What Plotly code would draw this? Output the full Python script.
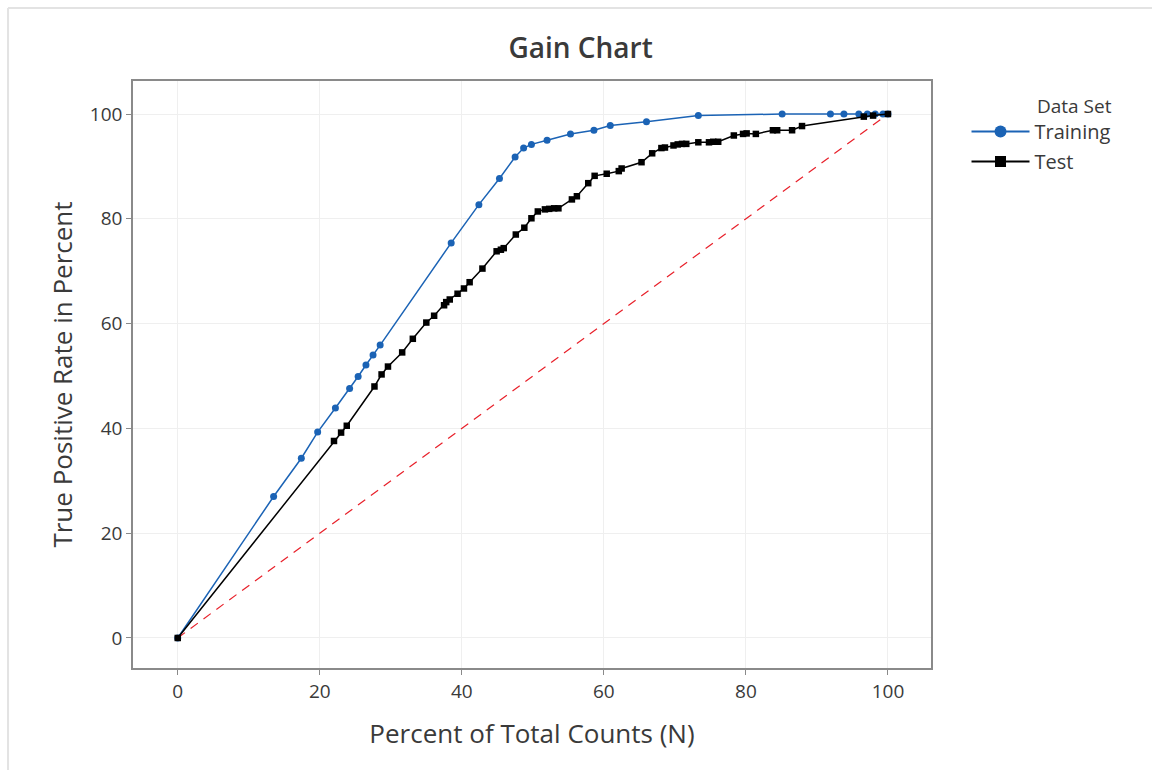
import plotly.graph_objects as go

# Cumulative gain: percent of total counts vs. true positive rate (%)
train_x = [0, 13.5, 17.4, 19.7, 22.2, 24.2, 25.4, 26.5, 27.5, 28.5, 38.5, 42.4, 45.3, 47.5,
           48.7, 49.8, 52.0, 55.3, 58.6, 60.9, 66.0, 73.3, 85.1, 91.9, 93.8, 95.9, 97.1,
           98.2, 99.3, 100]
train_y = [0, 27.0, 34.3, 39.3, 43.9, 47.6, 49.9, 52.1, 54.0, 55.9, 75.4, 82.7, 87.7, 91.8,
           93.5, 94.2, 95.0, 96.2, 96.9, 97.8, 98.5, 99.7, 100, 100, 100, 100, 100,
           100, 100, 100]

test_x = [0, 22.0, 23.0, 23.8, 27.7, 28.7, 29.6, 31.6, 33.1, 35.0, 36.1, 37.5, 37.8, 38.3,
          39.4, 40.3, 41.1, 42.9, 44.9, 45.5, 45.9, 47.6, 48.8, 49.8, 50.7, 51.7, 52.3,
          53.0, 53.6, 55.5, 56.2, 57.8, 58.7, 60.4, 62.1, 62.5, 65.3, 66.8, 68.1, 68.6,
          69.8, 70.4, 71.0, 71.6, 73.3, 74.8, 75.4, 76.1, 78.3, 79.6, 80.1, 81.4, 83.8,
          84.4, 86.5, 87.9, 96.6, 97.9, 100]
test_y = [0, 37.6, 39.2, 40.5, 48.0, 50.3, 51.8, 54.5, 57.1, 60.2, 61.5, 63.5, 64.1, 64.6,
          65.7, 66.7, 67.9, 70.5, 73.8, 74.1, 74.4, 77.0, 78.3, 80.1, 81.4, 81.8, 81.9,
          82.0, 82.0, 83.7, 84.3, 86.8, 88.2, 88.6, 89.1, 89.6, 90.8, 92.5, 93.5, 93.6,
          94.0, 94.2, 94.3, 94.3, 94.6, 94.6, 94.7, 94.7, 95.9, 96.2, 96.3, 96.2, 96.9,
          96.9, 96.9, 97.7, 99.5, 99.7, 100]

# Random-selection baseline
base_x = [0, 100]
base_y = [0, 100]

tick_vals = [0, 20, 40, 60, 80, 100]

FONT = "Open Sans, Noto Sans, sans-serif"
TEXT = "#3a3a3a"
BLUE = "#1b63b5"

fig = go.Figure()

fig.add_trace(go.Scatter(
    x=base_x, y=base_y, mode="lines", showlegend=False, hoverinfo="skip",
    line=dict(color="#e8202a", width=1.2, dash="9px,7px"),
))
fig.add_trace(go.Scatter(
    x=train_x, y=train_y, mode="lines+markers", name="Training", showlegend=False,
    line=dict(color=BLUE, width=1.5),
    marker=dict(symbol="circle", size=7, color=BLUE),
))
fig.add_trace(go.Scatter(
    x=test_x, y=test_y, mode="lines+markers", name="Test", showlegend=False,
    line=dict(color="#000000", width=1.5),
    marker=dict(symbol="square", size=6.5, color="#000000"),
))

# Legend entries with larger symbols
fig.add_trace(go.Scatter(
    x=[None], y=[None], mode="lines+markers", name="Training", legendgroup="train",
    line=dict(color=BLUE, width=2), marker=dict(symbol="circle", size=12, color=BLUE),
))
fig.add_trace(go.Scatter(
    x=[None], y=[None], mode="lines+markers", name="Test", legendgroup="test",
    line=dict(color="#000000", width=2), marker=dict(symbol="square", size=11, color="#000000"),
))

axis_common = dict(
    showline=True, linecolor="#8a8a8a", linewidth=1.5, mirror=True,
    showgrid=True, gridcolor="#efefef", gridwidth=1,
    zeroline=False, ticks="outside", ticklen=5, tickcolor="#8a8a8a",
    tickfont=dict(family=FONT, size=19, color=TEXT),
    tickvals=tick_vals,
)

fig.update_layout(
    width=1152, height=770,
    paper_bgcolor="white", plot_bgcolor="white",
    margin=dict(l=133, r=221, t=81, b=102),
    title=dict(text="Gain Chart", x=0.504, xref="container", y=0.938, yref="container",
               xanchor="center", yanchor="middle",
               font=dict(family=FONT, size=28, color=TEXT, weight=600)),
    xaxis=dict(range=[-6.3, 106.06],
               title=dict(text="Percent of Total Counts (N)", standoff=22,
                          font=dict(family=FONT, size=26, color=TEXT, weight=500)),
               **axis_common),
    yaxis=dict(range=[-5.73, 106.3],
               title=dict(text="True Positive Rate in Percent", standoff=10,
                          font=dict(family=FONT, size=26, color=TEXT, weight=500)),
               **axis_common),
    legend=dict(x=1.0445, y=0.947, xanchor="left", yanchor="top",
                font=dict(family=FONT, size=20, color=TEXT),
                itemwidth=58, tracegroupgap=1, bgcolor="rgba(0,0,0,0)"),
    annotations=[dict(text="Data Set", xref="paper", yref="paper",
                      x=1.1303, y=0.957, xanchor="left", yanchor="middle",
                      showarrow=False,
                      font=dict(family=FONT, size=19, color=TEXT, weight=500))],
    shapes=[
        # outer graph frame (top and left edges)
        dict(type="line", xref="paper", yref="paper", x0=-0.1566, x1=1.30,
             y0=1.1244, y1=1.1244, line=dict(color="#e3e3e3", width=2)),
        dict(type="line", xref="paper", yref="paper", x0=-0.1566, x1=-0.1566,
             y0=1.1244, y1=-0.18, line=dict(color="#e3e3e3", width=2)),
    ],
)

fig.write_html("out.html")
